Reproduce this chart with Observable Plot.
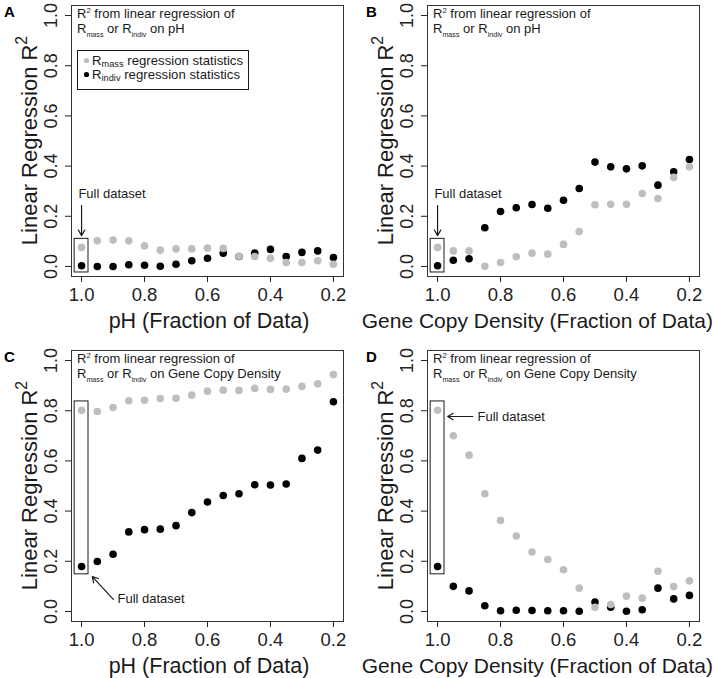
<!DOCTYPE html>
<html>
<head>
<meta charset="utf-8">
<script src="https://cdn.jsdelivr.net/npm/d3@7"></script>
<script src="https://cdn.jsdelivr.net/npm/@observablehq/plot@0.6"></script>
<style>
  html, body { margin: 0; padding: 0; background: #fff; overflow: hidden; }
  #root { position: relative; width: 714px; height: 678px; font-family: "Liberation Sans", Arial, Helvetica, sans-serif; }
  .panel { position: absolute; }
  .panel svg { overflow: visible; display: block; }
</style>
</head>
<body>
<div id="root"></div>
<script>
// ---------------- data ----------------
const fractions = [1.00, 0.95, 0.90, 0.85, 0.80, 0.75, 0.70, 0.65, 0.60, 0.55, 0.50, 0.45, 0.40, 0.35, 0.30, 0.25, 0.20];

// Panel A: subsets by pH, regression on pH
const rmassA  = [0.076, 0.102, 0.105, 0.102, 0.082, 0.065, 0.070, 0.070, 0.073, 0.072, 0.041, 0.040, 0.033, 0.016, 0.016, 0.023, 0.009];
const rindivA = [0.003, 0.000, 0.000, 0.007, 0.005, 0.001, 0.009, 0.023, 0.033, 0.053, 0.040, 0.053, 0.068, 0.040, 0.056, 0.062, 0.036];
// Panel B: subsets by gene copy density, regression on pH
const rmassB  = [0.076, 0.062, 0.062, 0.001, 0.016, 0.039, 0.053, 0.049, 0.088, 0.139, 0.246, 0.248, 0.248, 0.291, 0.271, 0.355, 0.397];
const rindivB = [0.003, 0.025, 0.031, 0.154, 0.219, 0.234, 0.247, 0.232, 0.264, 0.311, 0.416, 0.397, 0.389, 0.401, 0.324, 0.377, 0.426];
// Panel C: subsets by pH, regression on gene copy density
const rmassC  = [0.802, 0.797, 0.813, 0.840, 0.842, 0.849, 0.850, 0.862, 0.878, 0.882, 0.881, 0.889, 0.885, 0.886, 0.897, 0.907, 0.944];
const rindivC = [0.179, 0.199, 0.228, 0.317, 0.326, 0.328, 0.342, 0.394, 0.436, 0.462, 0.469, 0.505, 0.504, 0.508, 0.610, 0.643, 0.836];
// Panel D: subsets by gene copy density, regression on gene copy density
const rmassD  = [0.802, 0.700, 0.623, 0.469, 0.363, 0.301, 0.237, 0.207, 0.166, 0.093, 0.017, 0.028, 0.061, 0.053, 0.160, 0.099, 0.122];
const rindivD = [0.179, 0.100, 0.082, 0.023, 0.003, 0.005, 0.004, 0.003, 0.003, 0.001, 0.038, 0.017, 0.001, 0.007, 0.093, 0.050, 0.064];

const panelLetters = ["A", "B", "C", "D"];
const xTitles = ["pH (Fraction of Data)", "Gene Copy Density (Fraction of Data)", "pH (Fraction of Data)", "Gene Copy Density (Fraction of Data)"];
const predictors = ["pH", "pH", "Gene Copy Density", "Gene Copy Density"];
const xTicks = [1.0, 0.8, 0.6, 0.4, 0.2];
const yTicks = [0.0, 0.2, 0.4, 0.6, 0.8, 1.0];
const yTitle = "Linear Regression R";
const legendLabels = [["R", "mass", " regression statistics"], ["R", "indiv", " regression statistics"]];
const fullLabel = "Full dataset";
// full-dataset highlight boxes (value ranges around the x = 1.0 points)
const fullBoxLow  = [-0.024, -0.024, 0.148, 0.148];
const fullBoxHigh = [0.110, 0.110, 0.837, 0.837];

// ---------------- layout ----------------
const FONT = '"Liberation Sans", Arial, Helvetica, sans-serif';
const INK = "#1a1a1a";
const GRAY = "#bebebe";
const W = 357, H = 333, ML = 71, MR = 14, MT = 5, MB = 57;
const offsets = [[0, 0], [356, 0], [0, 345], [356, 345]];
const rmassAll = [rmassA, rmassB, rmassC, rmassD];
const rindivAll = [rindivA, rindivB, rindivC, rindivD];

function richText(g, x, y, parts, size, opts = {}) {
  const subScale = opts.subScale ?? 0.6;
  const t = g.append("text")
    .attr("x", x).attr("y", y)
    .attr("font-size", size)
    .attr("font-family", FONT)
    .attr("fill", INK)
    .attr("text-anchor", opts.anchor || "start");
  if (opts.transform) t.attr("transform", opts.transform);
  let shift = 0;
  for (const p of parts) {
    const s = typeof p === "string" ? { t: p } : p;
    const target = s.sub ? size * (opts.subDrop ?? 0.32) : s.sup ? -size * (opts.supRise ?? 0.42) : 0;
    t.append("tspan")
      .attr("dy", target - shift)
      .attr("fill", INK)
      .attr("font-size", s.sub || s.sup ? size * (s.sup ? (opts.supScale ?? 0.62) : subScale) : size)
      .text(s.t);
    shift = target;
  }
  return t;
}

const root = document.getElementById("root");

for (let i = 0; i < 4; i++) {
  const rows = fractions.map((f, j) => ({ f, mass: rmassAll[i][j], indiv: rindivAll[i][j] }));
  const marks = [
    Plot.frame({ stroke: "#333", strokeWidth: 1 }),
    Plot.axisX({ ticks: xTicks, tickSize: 6, tickPadding: 5, fontSize: 18.5, tickFormat: d3.format(".1f"), label: null, color: "#222" }),
    Plot.axisY({ ticks: yTicks, tickSize: 6, tickPadding: 9, tickRotate: -90, fontSize: 18, tickFormat: d3.format(".1f"), label: null, color: "#222" }),
    Plot.rect([{ x1: 1.022, x2: 0.978, y1: fullBoxLow[i], y2: fullBoxHigh[i] }],
      { x1: "x1", x2: "x2", y1: "y1", y2: "y2", fill: "none", stroke: INK, strokeWidth: 1 }),
    Plot.dot(rows, { x: "f", y: "indiv", r: 3.8, fill: "#000", stroke: "none" }),
    Plot.dot(rows, { x: "f", y: "mass", r: 3.8, fill: GRAY, stroke: "none" })
  ];
  // "Full dataset" annotation
  if (i < 2) {
    marks.push(Plot.arrow([{ x1: 1.0, y1: 0.243, x2: 1.0, y2: 0.123 }],
      { x1: "x1", y1: "y1", x2: "x2", y2: "y2", stroke: INK, strokeWidth: 1.2, headLength: 8, insetStart: 0, insetEnd: 0 }));
    marks.push(Plot.text([{ x: 1.010, y: 0.291 }], { x: "x", y: "y", text: () => fullLabel, textAnchor: "start", fontSize: 13, fill: INK }));
  } else if (i === 2) {
    marks.push(Plot.arrow([{ x1: 0.899, y1: 0.048, x2: 0.966, y2: 0.139 }],
      { x1: "x1", y1: "y1", x2: "x2", y2: "y2", stroke: INK, strokeWidth: 1.2, headLength: 8, insetStart: 0, insetEnd: 0 }));
    marks.push(Plot.text([{ x: 0.886, y: 0.052 }], { x: "x", y: "y", text: () => fullLabel, textAnchor: "start", fontSize: 13, fill: INK }));
  } else {
    marks.push(Plot.arrow([{ x1: 0.888, y1: 0.777, x2: 0.968, y2: 0.777 }],
      { x1: "x1", y1: "y1", x2: "x2", y2: "y2", stroke: INK, strokeWidth: 1.2, headLength: 8, insetStart: 0, insetEnd: 0 }));
    marks.push(Plot.text([{ x: 0.873, y: 0.777 }], { x: "x", y: "y", text: () => fullLabel, textAnchor: "start", fontSize: 13, fill: INK }));
  }

  const chart = Plot.plot({
    width: W, height: H,
    marginLeft: ML, marginRight: MR, marginTop: MT, marginBottom: MB,
    style: { fontFamily: FONT, overflow: "visible", background: "transparent", color: INK },
    x: { domain: [1.032, 0.168] },
    y: { domain: [-0.04, 1.04] },
    marks
  });

  const svg = d3.select(chart);
  const g = svg.append("g").attr("text-anchor", "start");

  // panel letter
  g.append("text").attr("x", i % 2 === 0 ? 4 : 10).attr("y", 17)
    .attr("font-size", 15).attr("font-weight", "bold").attr("font-family", FONT).attr("fill", "#000")
    .attr("text-anchor", "start")
    .text(panelLetters[i]);

  // y title
  richText(g, 0, 0, [yTitle, { t: "2", sup: true }], 22,
    { anchor: "middle", transform: `translate(37,${MT + (H - MT - MB) / 2}) rotate(-90)`, supScale: 0.72, supRise: 0.45 });

  // x title
  if (i % 2 === 0) {
    richText(g, ML + (W - ML - MR) / 2 + 2, 328, [xTitles[i]], 21.5, { anchor: "middle" });
  } else {
    richText(g, 713 - 356, 328, [xTitles[i]], 21, { anchor: "end" });
  }

  // header annotation
  richText(g, 77, 18, ["R", { t: "2", sup: true }, " from linear regression of"], 13, { supScale: 0.6, supRise: 0.4 });
  richText(g, 77, 33, ["R", { t: "mass", sub: true }, " or R", { t: "indiv", sub: true }, " on " + predictors[i]], 13, { subScale: 0.55, subDrop: 0.3 });

  // legend (panel A only)
  if (i === 0) {
    g.append("rect").attr("x", 77.5).attr("y", 50.5).attr("width", 171).attr("height", 39)
      .attr("fill", "none").attr("stroke", INK).attr("stroke-width", 1);
    const dotColors = [GRAY, "#000"];
    const baselines = [64.5, 78.5];
    legendLabels.forEach((lab, k) => {
      g.append("circle").attr("cx", 86.5).attr("cy", baselines[k] - 4).attr("r", 2.6).attr("fill", dotColors[k]);
      richText(g, 92, baselines[k], [lab[0], { t: lab[1], sub: true }, lab[2]], 13.2, { subScale: 0.7, subDrop: 0.2 });
    });
  }

  const div = document.createElement("div");
  div.className = "panel";
  div.style.left = offsets[i][0] + "px";
  div.style.top = offsets[i][1] + "px";
  div.appendChild(chart);
  root.appendChild(div);
}
</script>
</body>
</html>
